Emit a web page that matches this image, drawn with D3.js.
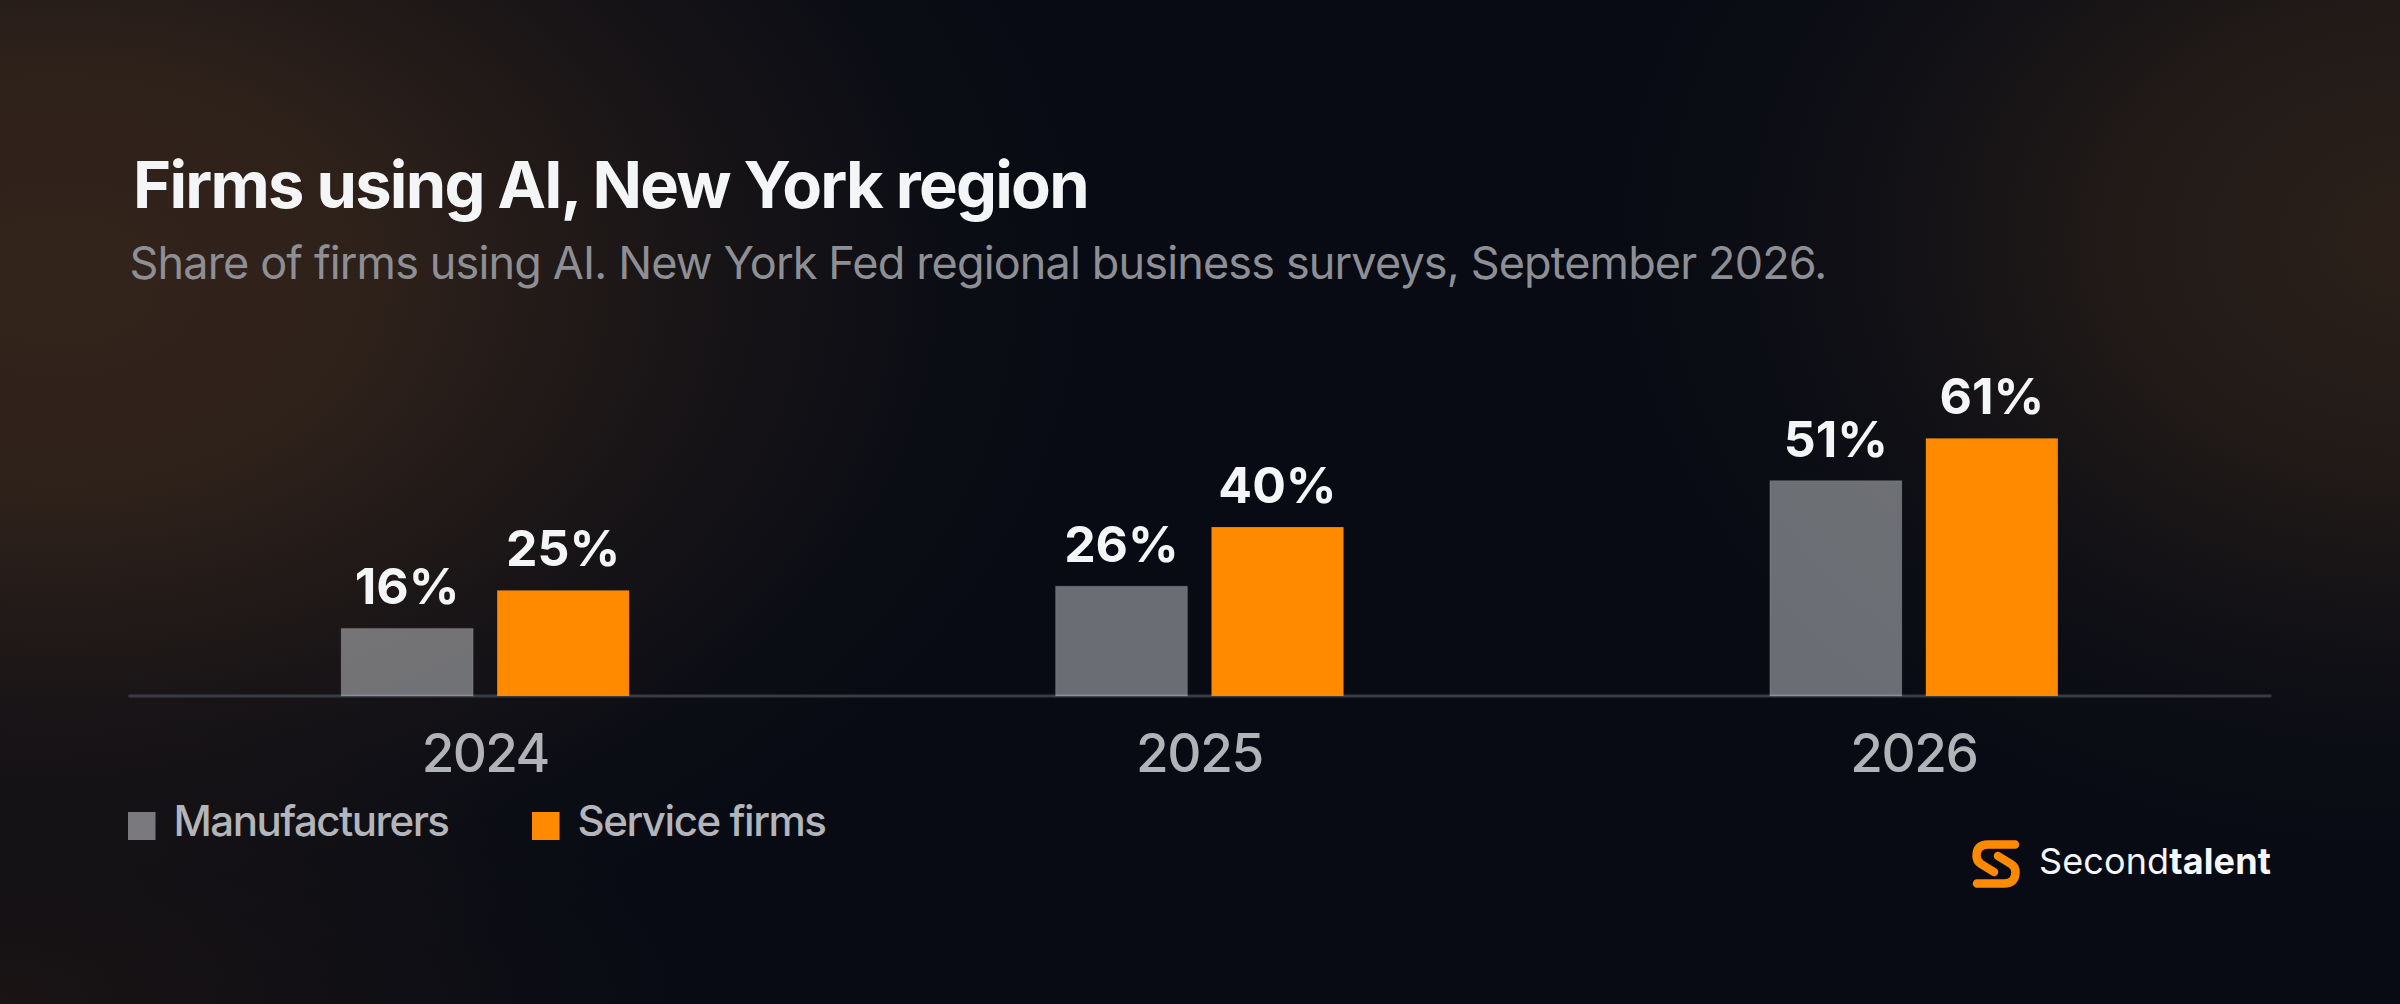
<!DOCTYPE html>
<html>
<head>
<meta charset="utf-8">
<script src="https://cdn.jsdelivr.net/npm/d3@7"></script>
<style>
  html, body { margin: 0; padding: 0; background: #080b14; }
  svg { display: block; }
  text { font-family: Inter, "Noto Sans", sans-serif; }
</style>
</head>
<body>
<svg id="chart" width="2400" height="1004"></svg>
<script>
// ---- data ----
const years = ["2024", "2025", "2026"];
const seriesNames = ["Manufacturers", "Service firms"];
const manufacturers = [16, 26, 51];
const serviceFirms = [25, 40, 61];
const titleText = "Firms using AI, New York region";
const subtitleText = "Share of firms using AI. New York Fed regional business surveys, September 2026.";

const seriesValues = [manufacturers, serviceFirms];
const rows = years.map((yr, i) => ({
  year: yr,
  values: seriesNames.map((s, j) => ({ series: s, value: seriesValues[j][i] }))
}));

const W = 2400, H = 1004;
const svg = d3.select("#chart");
const defs = svg.append("defs");

// ---- background ----
svg.append("rect").attr("width", W).attr("height", H).attr("fill", "#080b14");

function glow(id, cx, cy, rx, ry, color, stops) {
  const g = defs.append("radialGradient").attr("id", id)
    .attr("gradientUnits", "userSpaceOnUse")
    .attr("cx", 0).attr("cy", 0).attr("r", 1)
    .attr("gradientTransform", `translate(${cx},${cy}) scale(${rx},${ry})`);
  stops.forEach(([o, a]) => g.append("stop").attr("offset", o).attr("stop-color", color).attr("stop-opacity", a));
  svg.append("rect").attr("width", W).attr("height", H).attr("fill", `url(#${id})`);
}
glow("g1", 60, 280, 1050, 720, "#33241b", [[0, 1], [0.3, 0.88], [0.6, 0.38], [0.85, 0.08], [1, 0]]);
glow("g2", 2420, 240, 820, 620, "#30231a", [[0, 0.9], [0.35, 0.65], [0.7, 0.18], [1, 0]]);
glow("g3", 0, 1004, 700, 300, "#1e1614", [[0, 0.8], [1, 0]]);

const colors = { "Manufacturers": "rgba(236,240,244,0.43)", "Service firms": "#ff8a00" };
const legendColors = { "Manufacturers": "#7a7a7e", "Service firms": "#ff8a00" };

// ---- scales ----
const x0 = d3.scaleBand().domain(years).range([128, 2271]).paddingInner(0).paddingOuter(0);
const x1 = d3.scaleBand().domain(seriesNames).range([0, 288]).paddingInner(24 / 156).paddingOuter(0);
const y = d3.scaleLinear().domain([0, 100]).range([696, 273.7]);

function fit(sel, target) {
  const node = sel.node();
  const n = sel.text().length;
  const w = node.getComputedTextLength();
  sel.attr("letter-spacing", ((target - w) / n).toFixed(3));
}

// ---- title / subtitle ----
const title = svg.append("text").attr("x", 133).attr("y", 207.7)
  .attr("fill", "#f4f5f7").attr("font-size", 65).attr("font-weight", 700).text(titleText);
fit(title, 955);
const sub = svg.append("text").attr("x", 129.5).attr("y", 279.3)
  .attr("fill", "#8e8f95").attr("font-size", 45).attr("font-weight", 400).text(subtitleText);
fit(sub, 1697);

// ---- axis ----
const axis = svg.append("g").attr("transform", `translate(0,${y(0)})`)
  .call(d3.axisBottom(x0).tickSize(0).tickSizeOuter(0));
axis.select(".domain").attr("stroke", "#393a42").attr("stroke-width", 3).attr("transform", "translate(0,-0.5)");
axis.selectAll(".tick text")
  .attr("y", 75.7).attr("dy", 0)
  .attr("fill", "#b2b3b8").attr("font-size", 53).attr("font-weight", 500)
  .attr("font-family", "Inter, 'Noto Sans', sans-serif")
  .each(function () { fit(d3.select(this), 127); });

// ---- bars ----
const groups = svg.append("g").selectAll("g").data(rows).join("g")
  .attr("transform", d => `translate(${x0(d.year) + x0.bandwidth() / 2 - 144},0)`);

groups.selectAll("rect").data(d => d.values).join("rect")
  .attr("x", d => x1(d.series))
  .attr("width", x1.bandwidth())
  .attr("y", d => y(d.value))
  .attr("height", d => y(0) - y(d.value))
  .attr("fill", d => colors[d.series])
  .attr("stroke", d => d.series === "Manufacturers" ? "rgba(255,255,255,0.08)" : "none")
  .attr("stroke-width", 1.5);

groups.selectAll("text.val").data(d => d.values).join("text")
  .attr("class", "val")
  .attr("x", d => x1(d.series) + x1.bandwidth() / 2)
  .attr("y", d => y(d.value) - 24)
  .attr("text-anchor", "middle")
  .attr("fill", "#f4f5f7").attr("font-size", 50).attr("font-weight", 700)
  .text(d => d.value + "%");

// ---- legend ----
const legendX = [128, 532];
const legendW = [275, 248];
const leg = svg.append("g").selectAll("g").data(seriesNames).join("g")
  .attr("transform", (d, i) => `translate(${legendX[i]},0)`);
leg.append("rect").attr("x", 0).attr("y", 812).attr("width", 27.5).attr("height", 28)
  .attr("fill", d => legendColors[d]);
leg.append("text").attr("x", 45.5).attr("y", 835.7)
  .attr("fill", "#b4b5ba").attr("font-size", 42).attr("font-weight", 500)
  .text(d => d)
  .each(function (d, i) { fit(d3.select(this), legendW[i]); });

// ---- logo ----
const logo = svg.append("g");
logo.append("path")
  .attr("d", "M2015,844.5 L1988,844.5 Q1976.5,844.5 1976.5,856 Q1976.5,861 1981,864 L1994,872")
  .attr("fill", "none").attr("stroke", "#ff8a00").attr("stroke-width", 8.5)
  .attr("stroke-linecap", "round").attr("stroke-linejoin", "round");
logo.append("path")
  .attr("d", "M1977,883.5 L2004,883.5 Q2015.5,883.5 2015.5,872 Q2015.5,867 2011,864 L1998,856")
  .attr("fill", "none").attr("stroke", "#ff8a00").attr("stroke-width", 8.5)
  .attr("stroke-linecap", "round").attr("stroke-linejoin", "round");
const lt = logo.append("text").attr("x", 2039).attr("y", 874.3)
  .attr("fill", "#f5f6f8").attr("font-size", 36);
lt.append("tspan").attr("font-weight", 400).text("Second");
lt.append("tspan").attr("font-weight", 700).text("talent");
fit(lt, 232);
</script>
</body>
</html>
